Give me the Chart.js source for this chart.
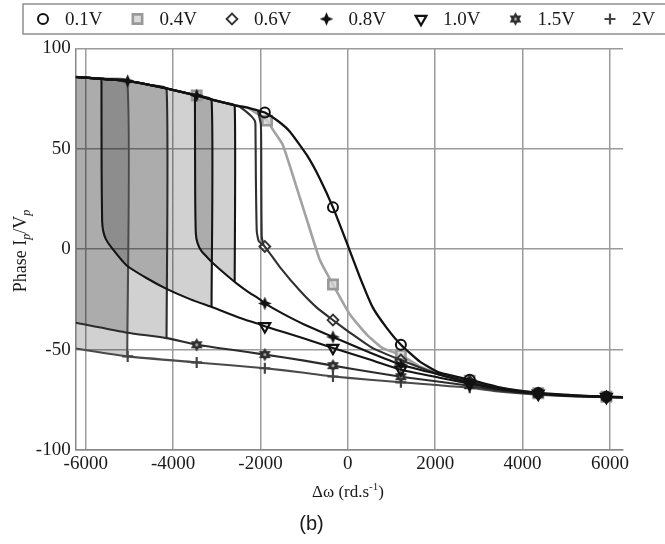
<!DOCTYPE html>
<html><head><meta charset="utf-8">
<script src="https://cdn.jsdelivr.net/npm/chart.js@4.4.0/dist/chart.umd.min.js"></script>
<style>html,body{margin:0;padding:0;background:#fff}#wrap{width:665px;height:544px}</style>
</head><body><div id="wrap"><canvas id="c" width="665" height="544"></canvas></div>
<script>
// ================= DATA =================
const X_TICKS = [-6000, -4000, -2000, 0, 2000, 4000, 6000];
const Y_TICKS = [-100, -50, 0, 50, 100];
const LABELS = ['0.1V', '0.4V', '0.6V', '0.8V', '1.0V', '1.5V', '2V'];

// common upper branch (all voltages)
const UP_X = [-6230, -5640, -5040, -4500, -4150, -3500, -3460, -3120, -2770, -2590, -2300, -2100, -1900];
const UP_Y = [85.7, 84.8, 83.7, 81.6, 80.0, 76.7, 76.5, 74.5, 72.6, 71.6, 70.5, 69.3, 68.0];

// 0.1V continuation after the common branch
const V01_TX = [-1600, -1330, -940, -640, -340, -20, 275, 570, 890, 1215, 1650, 2100, 2790, 3500, 4360, 5200, 5920, 6300];
const V01_TY = [63.8, 58.6, 46.9, 35.1, 20.8, 3.0, -13.9, -29.0, -39.2, -47.6, -56.0, -61.5, -65.0, -69.0, -71.6, -72.8, -73.5, -73.7];

// 0.4V continuation (after -2300)
const V04_TX = [-2100, -1850, -1700, -1490, -1260, -940, -640, -340, 45, 435, 800, 1215, 1650, 2100, 2790, 3500, 4360, 5200, 5920, 6300];
const V04_TY = [67.8, 64.0, 59.0, 52.0, 36.8, 14.8, -5.4, -17.6, -32.4, -42.6, -49.3, -52.7, -58.5, -62.0, -65.5, -69.2, -71.7, -72.9, -73.5, -73.7];

// 0.6V continuation (after -2500), with its jump down
const V06_TX = [-2300, -2200, -2130, -2115, -2105, -2085, -2040, -1900, -1560, -1100, -710, -340, 115, 570, 1215, 2100, 2790, 3500, 4360, 5200, 5920, 6300];
const V06_TY = [68.0, 66.0, 64.0, 62.0, 35.0, 9.0, 4.0, 1.3, -8.8, -20.6, -29.1, -35.3, -42.6, -49.3, -55.2, -62.5, -66.0, -69.4, -71.8, -73.0, -73.5, -73.7];
// 0.6V return (jump up)
const V06R_X = [-1930, -1970, -1980, -1990, -2060];
const V06R_Y = [2.0, 6.0, 30.0, 62.0, 69.0];

// lower branches (start with the vertical jump up where visible)
const L08_X = [-3500, -3495, -3480, -3440, -3350, -3200, -3080, -2800, -2540, -2300, -2015, -1900, -1500, -1000, -340, 500, 1215, 2100, 2790, 3500, 4360, 5200, 5920, 6300];
const L08_Y = [76.7, 30.0, 8.0, 3.0, -1.0, -4.5, -7.1, -12.5, -17.2, -21.0, -25.0, -27.0, -32.0, -37.5, -43.7, -51.5, -57.5, -62.5, -66.5, -69.6, -71.9, -73.0, -73.5, -73.7];

const L10_X = [-5640, -5637, -5625, -5600, -5540, -5400, -5070, -4600, -4150, -3600, -3080, -2500, -2010, -1900, -1400, -1000, -340, 500, 1215, 2100, 2790, 3500, 4360, 5200, 5920, 6300];
const L10_Y = [84.8, 40.0, 14.0, 9.0, 5.0, 0.5, -8.0, -14.5, -19.8, -25.0, -29.1, -34.0, -37.5, -38.4, -41.8, -44.5, -49.2, -55.0, -60.0, -64.0, -67.0, -69.8, -72.0, -73.1, -73.6, -73.7];

const L15_X = [-6230, -5040, -4150, -3460, -2700, -1900, -1000, -340, 500, 1215, 2100, 2790, 3500, 4360, 5200, 5920, 6300];
const L15_Y = [-36.6, -41.6, -44.3, -47.6, -50.0, -52.5, -55.5, -58.0, -61.0, -63.5, -66.0, -68.0, -70.5, -72.2, -73.2, -73.6, -73.7];

const L20_X = [-6230, -5040, -3460, -1900, -1000, -340, 500, 1215, 2100, 2790, 3500, 4360, 5200, 5920, 6300];
const L20_Y = [-49.5, -53.4, -56.4, -59.3, -61.5, -63.4, -65.0, -66.3, -67.8, -69.0, -71.0, -72.5, -73.3, -73.7, -73.8];

// frequency where the upper branch jumps down (hysteresis)
const DROP_08 = -2590, DROP_10 = -3120, DROP_15 = -4150, DROP_20 = -5050;
const LEFT_EDGE = -6230;

// marker positions (x) per curve
const MK_01 = [-1900, -340, 1215, 2790, 4360, 5920];
const MK_04 = [-3460, -1850, -340, 1215, 2790, 4360, 5920];
const MK_06 = [-1900, -340, 1215, 2790, 4360, 5920];
const MK_08U = [-5040, -3460];
const MK_08 = [-1900, -340, 1215, 2790, 4360, 5920];
const MK_10 = [-1900, -340, 1215, 2790, 4360, 5920];
const MK_15 = [-3460, -1900, -340, 1215, 2790, 4360, 5920];
const MK_20 = [-5040, -3460, -1900, -340, 1215, 2790, 4360, 5920];

// ================= helpers =================
function interp(xs, ys, x) {
  for (let i = 0; i < xs.length - 1; i++) {
    const a = Math.min(xs[i], xs[i + 1]), b = Math.max(xs[i], xs[i + 1]);
    if (x >= a && x <= b) {
      const t = xs[i + 1] === xs[i] ? 0 : (x - xs[i]) / (xs[i + 1] - xs[i]);
      return ys[i] + t * (ys[i + 1] - ys[i]);
    }
  }
  return x < xs[0] ? ys[0] : ys[ys.length - 1];
}
function seg(xs, ys, a, b) {
  const pts = [{x: a, y: interp(xs, ys, a)}];
  xs.forEach((x, i) => { if (x > a && x < b) pts.push({x, y: ys[i]}); });
  pts.push({x: b, y: interp(xs, ys, b)});
  return pts;
}
const pts = (xs, ys) => xs.map((x, i) => ({x, y: ys[i]}));

// marker images
function mkCanvas(size, draw) {
  const c = document.createElement('canvas'); c.width = size; c.height = size;
  draw(c.getContext('2d'), size / 2); return c;
}
const STAR4 = mkCanvas(15, (g, c) => {
  g.fillStyle = '#111'; g.beginPath();
  const R = 6.8, r = 2.9;
  for (let i = 0; i < 8; i++) {
    const a = -Math.PI / 2 + i * Math.PI / 4, rr = i % 2 ? r : R;
    g.lineTo(c + rr * Math.cos(a), c + rr * Math.sin(a));
  }
  g.closePath(); g.fill();
});
const HEX = mkCanvas(15, (g, c) => {
  g.fillStyle = '#2e2e2e';
  [-Math.PI / 2, Math.PI / 2].forEach(st => {
    g.beginPath();
    for (let i = 0; i < 3; i++) { const a = st + i * 2 * Math.PI / 3; g.lineTo(c + 6.8 * Math.cos(a), c + 6.8 * Math.sin(a)); }
    g.closePath(); g.fill();
  });
  g.fillStyle = '#aaa'; g.beginPath(); g.arc(c, c, 1.5, 0, Math.PI * 2); g.fill();
});

const STYLE = {
  '0.1V': {line: '#121212', w: 2.3, ps: 'circle', r: 5.0, bc: '#111', bg: 'rgba(0,0,0,0)', bw: 2.0, rot: 0},
  '0.4V': {line: '#a2a2a2', w: 2.6, ps: 'rect', r: 6.6, bc: '#999', bg: 'rgba(210,210,210,0.8)', bw: 2.6, rot: 0},
  '0.6V': {line: '#303030', w: 2.1, ps: 'rectRot', r: 5.4, bc: '#333', bg: 'rgba(0,0,0,0)', bw: 1.9, rot: 0},
  '0.8V': {line: '#141414', w: 2.1, ps: STAR4, r: 6, bc: '#111', bg: '#111', bw: 1, rot: 0},
  '1.0V': {line: '#141414', w: 2.1, ps: 'triangle', r: 6.2, bc: '#111', bg: 'rgba(0,0,0,0)', bw: 2.2, rot: 180},
  '1.5V': {line: '#2c2c2c', w: 2.1, ps: HEX, r: 6, bc: '#333', bg: '#333', bw: 1, rot: 0},
  '2V':   {line: '#4a4a4a', w: 2.1, ps: 'cross', r: 5.5, bc: '#444', bg: '#444', bw: 2.2, rot: 0}
};

function lineDs(label, data, marks, order) {
  const s = STYLE[label];
  return {
    label, data, order, showLine: true, fill: false, tension: 0.15,
    borderColor: s.line, borderWidth: s.w,
    pointStyle: s.ps, pointRotation: s.rot,
    pointRadius: ctx => (ctx.raw && marks.includes(ctx.raw.x)) ? s.r : 0,
    pointBorderColor: s.bc, pointBackgroundColor: s.bg, pointBorderWidth: s.bw,
    pointHoverRadius: 0
  };
}
function fillDs(a, drop, LX, LY) {
  const poly = seg(UP_X, UP_Y, a, drop).concat(seg(LX, LY, a, drop).reverse());
  return {label: 'fill', data: poly, order: 100, showLine: true, fill: 'shape', tension: 0,
    backgroundColor: 'rgba(0,0,0,0.18)', borderColor: 'rgba(0,0,0,0)', borderWidth: 0, pointRadius: 0};
}
function upperDrop(drop, LX, LY) {
  const p = seg(UP_X, UP_Y, LEFT_EDGE, drop);
  p.push({x: drop, y: interp(LX, LY, drop)});
  return p;
}

const datasets = [
  fillDs(LEFT_EDGE, DROP_20, L20_X, L20_Y),
  fillDs(LEFT_EDGE, DROP_15, L15_X, L15_Y),
  fillDs(-5640, DROP_10, L10_X, L10_Y),
  fillDs(-3500, DROP_08, L08_X, L08_Y),
  lineDs('0.4V', seg(UP_X, UP_Y, LEFT_EDGE, -2300).concat(pts(V04_TX, V04_TY)), MK_04, 20),
  lineDs('0.6V', seg(UP_X, UP_Y, LEFT_EDGE, -2500).concat(pts(V06_TX, V06_TY)), MK_06, 12),
  lineDs('0.6V', pts(V06R_X, V06R_Y), [], 12),
  lineDs('2V', upperDrop(DROP_20, L20_X, L20_Y), [], 11),
  lineDs('2V', pts(L20_X, L20_Y), MK_20, 11),
  lineDs('1.5V', upperDrop(DROP_15, L15_X, L15_Y), [], 10),
  lineDs('1.5V', pts(L15_X, L15_Y), MK_15, 10),
  lineDs('1.0V', upperDrop(DROP_10, L10_X, L10_Y), [], 9),
  lineDs('1.0V', pts(L10_X, L10_Y), MK_10, 9),
  lineDs('0.8V', upperDrop(DROP_08, L08_X, L08_Y), MK_08U, 8),
  lineDs('0.8V', pts(L08_X, L08_Y), MK_08, 8),
  lineDs('0.1V', pts(UP_X, UP_Y).concat(pts(V01_TX, V01_TY)), MK_01, 5)
];

// ================= text / legend plugin =================
const SERIF = "'Liberation Serif', 'DejaVu Serif', serif";
function drawRich(ctx, parts, cx, cy) {
  let total = 0;
  parts.forEach(p => { ctx.font = p.f; p.w = ctx.measureText(p.t).width; total += p.w; });
  let x = cx - total / 2;
  parts.forEach(p => { ctx.font = p.f; ctx.fillText(p.t, x, cy + (p.dy || 0)); x += p.w; });
}
const textPlugin = {
  id: 'texts',
  afterDraw(chart) {
    const ctx = chart.ctx;
    ctx.save();
    ctx.fillStyle = '#1a1a1a'; ctx.textBaseline = 'alphabetic'; ctx.textAlign = 'left';
    // y title
    ctx.save(); ctx.translate(26, 251); ctx.rotate(-Math.PI / 2);
    drawRich(ctx, [
      {t: 'Phase I', f: '18px ' + SERIF},
      {t: 'p', f: 'italic 12px ' + SERIF, dy: 4},
      {t: '/V', f: '18px ' + SERIF},
      {t: 'p', f: 'italic 12px ' + SERIF, dy: 4}
    ], 0, 0);
    ctx.restore();
    // x title
    drawRich(ctx, [
      {t: '\u0394\u03c9 (rd.s', f: '17px ' + SERIF},
      {t: '-1', f: '11px ' + SERIF, dy: -7},
      {t: ')', f: '17px ' + SERIF}
    ], 348, 497);
    // legend box
    ctx.strokeStyle = '#8f8f8f'; ctx.lineWidth = 1.5;
    ctx.strokeRect(23, 4, 700, 30);
    const yc = 19;
    ctx.font = '19px ' + SERIF; ctx.textBaseline = 'middle';
    LABELS.forEach((lab, i) => {
      const s = STYLE[lab];
      const mx = 43 + 94.5 * i;
      ctx.save();
      ctx.strokeStyle = s.bc; ctx.fillStyle = s.bg; ctx.lineWidth = s.bw;
      Chart.helpers.drawPoint(ctx, {pointStyle: s.ps, radius: s.r, rotation: s.rot, borderWidth: s.bw}, mx, yc);
      ctx.restore();
      ctx.fillStyle = '#1a1a1a';
      ctx.fillText(lab, mx + 22, yc + 1);
    });
    ctx.restore();
  }
};

// ================= chart =================
const tickFont = {family: SERIF, size: 19};
new Chart(document.getElementById('c'), {
  type: 'line',
  data: {datasets},
  options: {
    responsive: false, animation: false, events: [],
    layout: {padding: {top: 48.3, right: 42, left: 0, bottom: 0}},
    plugins: {
      legend: {display: false}, tooltip: {enabled: false},
      title: {display: true, position: 'bottom', text: '(b)', color: '#1a1a1a',
        font: {family: "'Liberation Sans', Arial, sans-serif", size: 20, weight: 'normal'},
        padding: {top: 12, bottom: 8}}
    },
    scales: {
      x: {
        type: 'linear', min: LEFT_EDGE, max: 6300,
        afterBuildTicks: s => { s.ticks = X_TICKS.map(v => ({value: v})); },
        afterFit: s => { s.height = 50; },
        ticks: {font: tickFont, color: '#1a1a1a', padding: 3, maxRotation: 0, autoSkip: false, callback: v => String(v)},
        grid: {color: '#9c9c9c', lineWidth: 1.5, drawTicks: false},
        border: {display: true, color: '#888', width: 1.5}
      },
      y: {
        type: 'linear', min: -100, max: 100,
        afterBuildTicks: s => { s.ticks = Y_TICKS.map(v => ({value: v})); },
        afterFit: s => { s.width = 75.7; },
        ticks: {font: tickFont, color: '#1a1a1a', padding: 5, callback: v => String(v)},
        grid: {color: '#9c9c9c', lineWidth: 1.5, drawTicks: false},
        border: {display: true, color: '#888', width: 1.5}
      }
    }
  },
  plugins: [textPlugin]
});
</script></body></html>
